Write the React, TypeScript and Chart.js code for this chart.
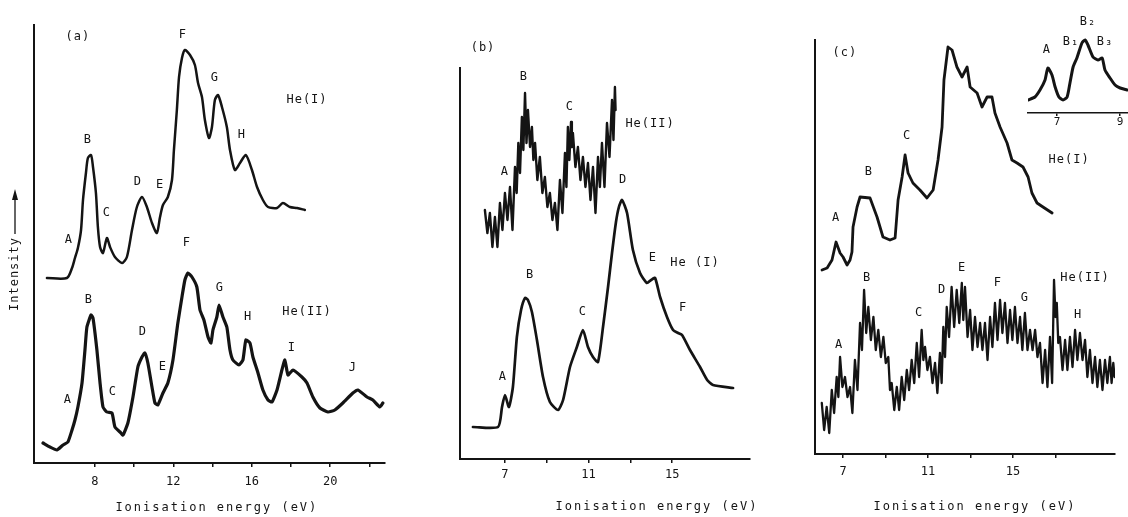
import React, { useEffect, useRef } from 'react';
import { Chart, registerables } from 'chart.js';

Chart.register(...registerables);

const FONT = '"DejaVu Sans Mono", "Liberation Mono", monospace';
const INK = '#141414';

// ---------------- Panel (a) ----------------
const A_HE1_EV = [5.55, 6.57, 6.83, 6.98, 7.13, 7.29, 7.39, 7.54, 7.64, 7.80, 7.90, 8.05, 8.15, 8.26, 8.41, 8.61, 8.77, 9.02, 9.38, 9.63, 9.89, 10.14, 10.40, 10.65, 10.91, 11.16, 11.32, 11.47, 11.72, 11.93, 12.03, 12.18, 12.29, 12.44, 12.59, 12.85, 13.10, 13.26, 13.46, 13.61, 13.82, 13.97, 14.12, 14.28, 14.48, 14.73, 14.89, 15.14, 15.40, 15.70, 16.01, 16.27, 16.57, 16.83, 17.29, 17.59, 17.95, 18.31, 18.71];
const A_HE1_I = [185, 185, 195, 205, 215, 233, 263, 290, 305, 308, 296, 270, 236, 216, 210, 225, 216, 206, 200, 206, 233, 256, 266, 256, 240, 230, 246, 258, 266, 283, 313, 353, 386, 405, 413, 408, 398, 380, 366, 343, 325, 336, 363, 368, 356, 336, 313, 293, 300, 308, 293, 276, 263, 256, 255, 260, 256, 255, 253];
const A_HE2_EV = [5.35, 5.70, 6.06, 6.37, 6.62, 6.83, 6.98, 7.13, 7.34, 7.49, 7.59, 7.80, 7.90, 8.10, 8.26, 8.41, 8.61, 8.87, 9.02, 9.28, 9.43, 9.68, 9.94, 10.19, 10.40, 10.55, 10.70, 10.91, 11.06, 11.21, 11.47, 11.72, 11.98, 12.23, 12.44, 12.59, 12.74, 12.95, 13.20, 13.36, 13.56, 13.77, 13.92, 14.02, 14.22, 14.33, 14.53, 14.73, 14.89, 15.04, 15.35, 15.55, 15.70, 15.91, 16.06, 16.32, 16.57, 16.83, 17.03, 17.29, 17.54, 17.69, 17.85, 18.10, 18.56, 18.82, 19.12, 19.48, 19.89, 20.24, 20.65, 21.16, 21.42, 21.88, 22.18, 22.54, 22.69];
const A_HE2_I = [20, 16, 13, 18, 21, 33, 43, 56, 80, 113, 136, 148, 145, 113, 80, 56, 51, 50, 36, 31, 28, 40, 66, 96, 106, 110, 100, 76, 60, 58, 70, 80, 103, 140, 166, 183, 190, 186, 176, 153, 143, 126, 120, 133, 146, 158, 146, 136, 113, 103, 98, 103, 123, 120, 106, 90, 73, 63, 61, 73, 93, 103, 88, 93, 86, 80, 66, 55, 51, 53, 60, 70, 73, 66, 63, 56, 60];
const A_TICKS = [8, 10, 12, 14, 16, 18, 20, 22];
const A_TICK_LABELS = [8, 12, 16, 20];
const A_LABELS: [string, number, number][] = [
  ['(a)', 7.13, 426],
  ['A', 6.67, 223], ['B', 7.64, 323], ['C', 8.61, 250], ['D', 10.19, 281], ['E', 11.32, 278],
  ['F', 12.49, 428], ['G', 14.12, 385], ['H', 15.5, 328], ['He(I)', 18.82, 363],
  ['A', 6.62, 63], ['B', 7.69, 163], ['C', 8.92, 71], ['D', 10.45, 131], ['E', 11.47, 96],
  ['F', 12.69, 220], ['G', 14.38, 175], ['H', 15.81, 146], ['I', 18.05, 115], ['J', 21.16, 95],
  ['He(II)', 18.82, 151],
];

// ---------------- Panel (b) ----------------
const B_HE2_EV = [6.04, 6.16, 6.28, 6.40, 6.52, 6.64, 6.76, 6.88, 7.00, 7.12, 7.24, 7.36, 7.48, 7.56, 7.64, 7.72, 7.81, 7.88, 7.96, 8.03, 8.10, 8.20, 8.29, 8.36, 8.44, 8.55, 8.67, 8.79, 8.91, 9.03, 9.15, 9.27, 9.39, 9.51, 9.63, 9.75, 9.87, 9.94, 10.01, 10.08, 10.16, 10.20, 10.25, 10.37, 10.49, 10.61, 10.73, 10.85, 10.97, 11.09, 11.21, 11.33, 11.45, 11.54, 11.64, 11.76, 11.88, 12.00, 12.12, 12.19, 12.26, 12.29];
const B_HE2_I = [249, 226, 246, 212, 242, 212, 256, 229, 266, 239, 272, 229, 292, 266, 316, 286, 342, 309, 366, 316, 349, 312, 332, 299, 316, 279, 302, 266, 282, 252, 266, 239, 256, 229, 279, 246, 306, 272, 332, 299, 337, 312, 326, 292, 312, 279, 302, 272, 296, 259, 292, 246, 302, 272, 316, 272, 336, 302, 359, 319, 372, 349];
const B_HE1_EV = [5.47, 6.67, 6.86, 7.00, 7.19, 7.38, 7.57, 7.77, 7.96, 8.10, 8.29, 8.53, 8.82, 9.15, 9.54, 9.78, 10.11, 10.44, 10.73, 10.97, 11.21, 11.45, 11.69, 11.93, 12.12, 12.31, 12.45, 12.60, 12.84, 13.12, 13.46, 13.79, 13.99, 14.18, 14.42, 14.75, 15.04, 15.28, 15.47, 15.85, 16.33, 16.67, 16.95, 17.91];
const B_HE1_I = [32, 32, 52, 64, 52, 72, 122, 149, 161, 159, 147, 119, 82, 57, 49, 59, 92, 112, 129, 112, 102, 97, 132, 172, 206, 237, 252, 259, 246, 209, 186, 176, 179, 181, 162, 142, 129, 126, 124, 109, 92, 79, 74, 71];
const B_TICKS = [7, 9, 11, 13, 15];
const B_TICK_LABELS = [7, 11, 15];
const B_LABELS: [string, number, number][] = [
  ['(b)', 5.95, 411],
  ['A', 7.0, 287], ['B', 7.91, 382], ['C', 10.11, 352], ['He(II)', 13.94, 335],
  ['A', 6.9, 82], ['B', 8.2, 184], ['C', 10.73, 147], ['D', 12.65, 279], ['E', 14.08, 201],
  ['He (I)', 16.09, 196], ['F', 15.52, 151],
];

// ---------------- Panel (c) ----------------
const C_HE1_EV = [6.01, 6.25, 6.48, 6.67, 6.86, 7.00, 7.19, 7.33, 7.42, 7.47, 7.66, 7.80, 8.27, 8.60, 8.88, 9.21, 9.45, 9.59, 9.78, 9.92, 10.06, 10.29, 10.62, 10.95, 11.24, 11.47, 11.66, 11.75, 11.94, 12.13, 12.36, 12.60, 12.84, 12.98, 13.31, 13.54, 13.78, 14.01, 14.15, 14.39, 14.72, 14.95, 15.19, 15.47, 15.71, 15.89, 16.13, 16.41, 16.84];
const C_HE1_I = [184, 186, 194, 212, 201, 197, 189, 194, 202, 227, 247, 257, 256, 237, 217, 214, 216, 254, 277, 299, 281, 271, 264, 256, 264, 294, 327, 374, 407, 404, 387, 377, 387, 367, 361, 347, 357, 357, 341, 327, 311, 294, 291, 287, 277, 261, 251, 247, 241];
const C_HE2_EV = [6.00, 6.11, 6.23, 6.35, 6.47, 6.58, 6.70, 6.78, 6.86, 6.97, 7.09, 7.21, 7.33, 7.44, 7.56, 7.68, 7.80, 7.89, 7.99, 8.09, 8.19, 8.31, 8.43, 8.54, 8.66, 8.78, 8.90, 9.01, 9.13, 9.21, 9.29, 9.41, 9.53, 9.64, 9.76, 9.88, 10.00, 10.11, 10.23, 10.35, 10.47, 10.58, 10.70, 10.78, 10.86, 10.97, 11.09, 11.21, 11.33, 11.44, 11.56, 11.64, 11.72, 11.80, 11.88, 11.99, 12.11, 12.23, 12.35, 12.47, 12.59, 12.66, 12.74, 12.86, 12.98, 13.09, 13.21, 13.33, 13.45, 13.56, 13.68, 13.80, 13.92, 14.03, 14.15, 14.27, 14.39, 14.50, 14.62, 14.74, 14.86, 14.97, 15.09, 15.21, 15.33, 15.44, 15.56, 15.68, 15.80, 15.92, 16.04, 16.15, 16.27, 16.39, 16.51, 16.62, 16.74, 16.84, 16.93, 17.00, 17.06, 17.13, 17.21, 17.33, 17.45, 17.56, 17.68, 17.80, 17.92, 18.03, 18.15, 18.27, 18.39, 18.50, 18.62, 18.74, 18.86, 18.97, 19.09, 19.21, 19.33, 19.44, 19.56, 19.64, 19.72, 19.78];
const C_HE2_I = [51, 24, 47, 21, 64, 41, 77, 57, 97, 67, 77, 57, 67, 41, 94, 64, 131, 104, 164, 121, 147, 114, 137, 104, 124, 97, 117, 91, 97, 64, 71, 44, 67, 44, 77, 54, 84, 64, 94, 71, 111, 77, 124, 94, 107, 84, 97, 71, 91, 61, 101, 71, 127, 97, 147, 117, 167, 127, 164, 131, 171, 134, 167, 117, 144, 104, 137, 107, 131, 104, 131, 94, 137, 107, 151, 114, 154, 121, 151, 111, 144, 114, 147, 111, 137, 104, 141, 104, 124, 104, 124, 97, 111, 71, 104, 67, 117, 71, 174, 137, 151, 111, 117, 84, 114, 84, 117, 87, 124, 94, 121, 94, 114, 77, 104, 71, 97, 67, 94, 64, 94, 71, 97, 71, 91, 77];
const C_TICKS = [7, 9, 11, 13, 15, 17];
const C_TICK_LABELS = [7, 11, 15];
const C_LABELS: [string, number, number][] = [
  ['(c)', 7.09, 401],
  ['A', 6.67, 236], ['B', 8.22, 282], ['C', 10.01, 318], ['He(I)', 17.64, 294],
  ['A', 6.81, 109], ['B', 8.13, 176], ['C', 10.58, 141], ['D', 11.66, 164], ['E', 12.6, 186],
  ['F', 14.29, 171], ['G', 15.56, 156], ['H', 18.06, 139], ['He(II)', 18.39, 176],
];

// ---------------- Inset of (c) ----------------
const INSET_EV = [6.08, 6.30, 6.46, 6.62, 6.71, 6.84, 6.94, 7.06, 7.19, 7.32, 7.41, 7.51, 7.63, 7.79, 7.89, 7.98, 8.14, 8.30, 8.43, 8.52, 8.68, 8.84, 9.00, 9.22];
const INSET_I = [13, 16, 23, 33, 45, 38, 26, 16, 13, 16, 30, 46, 55, 70, 73, 68, 56, 53, 55, 43, 35, 28, 25, 23];
const INSET_TICKS = [7, 9];
const INSET_TICK_LABELS = [7, 9];
const INSET_LABELS: [string, number, number][] = [
  ['A', 6.68, 63], ['B\u2081', 7.44, 71], ['B\u2082', 7.98, 91], ['B\u2083', 8.52, 71],
];

interface Series { ev: number[]; val: number[]; width: number; tension: number; }
interface PanelSpec {
  box: { left: number; top: number; width: number; height: number };
  pad: { left: number; right: number; top: number };
  axisH: number;
  xMin: number; xMax: number; yMax: number;
  ticks: number[]; tickLabels: number[]; tickPad: number; tickFont: number; tickLen: number;
  series: Series[];
  labels: [string, number, number][];
  labelFont: number;
  title?: { text: string; ev: number; dy: number };
  yAxis: boolean;
  intensity?: boolean;
  axisWidth: number;
}

const TITLE = 'Ionisation energy (eV)';

const PANELS: PanelSpec[] = [
  {
    box: { left: 0, top: 0, width: 400, height: 517 },
    pad: { left: 34, right: 15, top: 25 }, axisH: 54,
    xMin: 4.89, xMax: 22.8, yMax: 438,
    ticks: A_TICKS, tickLabels: A_TICK_LABELS, tickPad: 8, tickFont: 12, tickLen: 4,
    series: [
      { ev: A_HE1_EV, val: A_HE1_I, width: 2.5, tension: 0.25 },
      { ev: A_HE2_EV, val: A_HE2_I, width: 3.2, tension: 0.15 },
    ],
    labels: A_LABELS, labelFont: 12,
    title: { text: TITLE, ev: 14.22, dy: 45 },
    yAxis: true, intensity: true, axisWidth: 2,
  },
  {
    box: { left: 400, top: 0, width: 360, height: 517 },
    pad: { left: 60, right: 10, top: 68 }, axisH: 58,
    xMin: 4.85, xMax: 18.72, yMax: 391,
    ticks: B_TICKS, tickLabels: B_TICK_LABELS, tickPad: 5, tickFont: 12, tickLen: 4,
    series: [
      { ev: B_HE2_EV, val: B_HE2_I, width: 2.4, tension: 0 },
      { ev: B_HE1_EV, val: B_HE1_I, width: 2.7, tension: 0.2 },
    ],
    labels: B_LABELS, labelFont: 12,
    title: { text: TITLE, ev: 14.27, dy: 48 },
    yAxis: true, axisWidth: 2,
  },
  {
    box: { left: 760, top: 0, width: 368, height: 517 },
    pad: { left: 55, right: 13, top: 40 }, axisH: 63,
    xMin: 5.68, xMax: 19.8, yMax: 414,
    ticks: C_TICKS, tickLabels: C_TICK_LABELS, tickPad: 7, tickFont: 12, tickLen: 4,
    series: [
      { ev: C_HE1_EV, val: C_HE1_I, width: 2.8, tension: 0 },
      { ev: C_HE2_EV, val: C_HE2_I, width: 2.3, tension: 0 },
    ],
    labels: C_LABELS, labelFont: 12,
    title: { text: TITLE, ev: 13.21, dy: 53 },
    yAxis: true, axisWidth: 2,
  },
  {
    box: { left: 1020, top: 0, width: 108, height: 130 },
    pad: { left: 8, right: 0, top: 20 }, axisH: 17,
    xMin: 6.08, xMax: 9.25, yMax: 93,
    ticks: INSET_TICKS, tickLabels: INSET_TICK_LABELS, tickPad: 0, tickFont: 11, tickLen: 3,
    series: [{ ev: INSET_EV, val: INSET_I, width: 3, tension: 0.2 }],
    labels: INSET_LABELS, labelFont: 12,
    yAxis: false, axisWidth: 1.5,
  },
];

function Panel({ spec }: { spec: PanelSpec }) {
  const ref = useRef<HTMLCanvasElement>(null);
  useEffect(() => {
    const canvas = ref.current;
    if (!canvas) return;
    const textPlugin = {
      id: 'panelText',
      afterDraw(chart: any) {
        const ctx: CanvasRenderingContext2D = chart.ctx;
        const xs = chart.scales.x;
        const ys = chart.scales.y;
        const area = chart.chartArea;
        ctx.save();
        ctx.fillStyle = INK;
        ctx.strokeStyle = INK;
        ctx.textAlign = 'center';
        ctx.textBaseline = 'middle';
        (ctx as any).letterSpacing = '1px';
        ctx.font = `${spec.labelFont}px ${FONT}`;
        spec.labels.forEach(([t, ev, v]) => {
          ctx.fillText(t, xs.getPixelForValue(ev), ys.getPixelForValue(v));
        });
        if (spec.title) {
          (ctx as any).letterSpacing = '2px';
          ctx.font = `12px ${FONT}`;
          ctx.fillText(spec.title.text, xs.getPixelForValue(spec.title.ev), area.bottom + spec.title.dy);
        }
        if (spec.intensity) {
          const cx = area.left - 19;
          ctx.save();
          (ctx as any).letterSpacing = '1px';
          ctx.translate(cx, 274);
          ctx.rotate(-Math.PI / 2);
          ctx.fillText('Intensity', 0, 0);
          ctx.restore();
          ctx.lineWidth = 1.3;
          ctx.beginPath();
          ctx.moveTo(cx, 234);
          ctx.lineTo(cx, 198);
          ctx.stroke();
          ctx.beginPath();
          ctx.moveTo(cx, 189);
          ctx.lineTo(cx - 3, 200);
          ctx.lineTo(cx + 3, 200);
          ctx.closePath();
          ctx.fill();
        }
        ctx.restore();
      },
    };
    const chart = new Chart(canvas, {
      type: 'line',
      data: {
        datasets: spec.series.map((s) => ({
          data: s.ev.map((e, i) => ({ x: e, y: s.val[i] })),
          borderColor: INK,
          borderWidth: s.width,
          tension: s.tension,
          pointRadius: 0,
          fill: false,
          borderJoinStyle: 'round' as const,
          borderCapStyle: 'round' as const,
        })),
      },
      options: {
        responsive: false,
        animation: false,
        devicePixelRatio: 1,
        events: [],
        layout: { padding: { left: spec.pad.left, right: spec.pad.right, top: spec.pad.top, bottom: 0 } },
        plugins: { legend: { display: false }, tooltip: { enabled: false } },
        scales: {
          x: {
            type: 'linear',
            min: spec.xMin,
            max: spec.xMax,
            afterBuildTicks: (s: any) => { s.ticks = spec.ticks.map((v) => ({ value: v })); },
            afterFit: (s: any) => { s.height = spec.axisH; },
            ticks: {
              autoSkip: false, maxRotation: 0, minRotation: 0,
              padding: spec.tickPad, color: INK,
              font: { family: FONT, size: spec.tickFont },
              callback: (v: any) => (spec.tickLabels.includes(Number(v)) ? String(v) : ''),
            },
            grid: { display: true, drawOnChartArea: false, drawTicks: true, tickLength: spec.tickLen, color: INK, lineWidth: 1.5 },
            border: { display: true, color: INK, width: spec.axisWidth },
          },
          y: {
            type: 'linear',
            min: 0,
            max: spec.yMax,
            display: spec.yAxis,
            afterFit: (s: any) => { s.width = 0; },
            ticks: { display: false },
            grid: { display: false },
            border: { display: spec.yAxis, color: INK, width: spec.axisWidth },
          },
        },
      } as any,
      plugins: [textPlugin],
    });
    return () => chart.destroy();
  }, [spec]);
  return (
    <canvas
      ref={ref}
      width={spec.box.width}
      height={spec.box.height}
      style={{ position: 'absolute', left: spec.box.left, top: spec.box.top, width: spec.box.width, height: spec.box.height }}
    />
  );
}

export default function App() {
  return (
    <div style={{ position: 'absolute', left: 0, top: 0, width: 1128, height: 517, background: '#ffffff', overflow: 'hidden' }}>
      {PANELS.map((p, i) => (
        <Panel key={i} spec={p} />
      ))}
    </div>
  );
}
